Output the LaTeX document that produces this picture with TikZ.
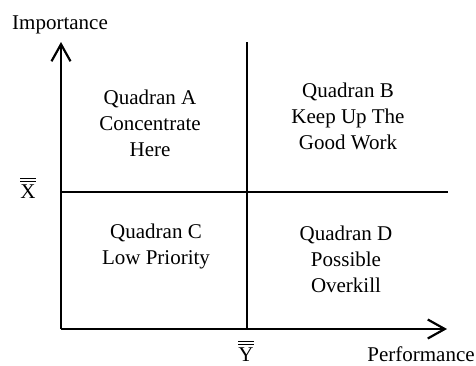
\documentclass[tikz,border=0pt]{standalone}
\usepackage{fontspec}
\setmainfont{Liberation Serif}
\usetikzlibrary{arrows.meta}

\newcommand{\dblbar}[1]{\setbox0\hbox{#1}\vbox{\hrule width\wd0 height1pt\kern2.2pt\hrule width\wd0 height1pt\kern2.2pt\box0}}

\begin{document}
\begin{tikzpicture}[
    x=1pt, y=-1pt,
    every node/.style={font=\fontsize{21}{26}\selectfont, inner sep=0pt},
    quad/.style={align=center},
    axis/.style={line width=2.2pt, -{Straight Barb[length=17pt,width=19pt,line width=2.2pt]}},
    divider/.style={line width=2.2pt}
]
    \useasboundingbox (0,0) rectangle (476,365);

    % axes and dividers
    \coordinate (origin) at (61,329);
    \coordinate (ytop) at (61,42);
    \coordinate (xend) at (447,329);
    \coordinate (vtop) at (247,42);
    \coordinate (vbot) at (247,329);
    \coordinate (hleft) at (61,192);
    \coordinate (hright) at (448,192);

    \draw [axis] (origin) -- (ytop);
    \draw [axis] (origin) -- (xend);
    \draw [divider] (vbot) -- (vtop);
    \draw [divider] (hleft) -- (hright);

    % axis labels
    \node (imp) [anchor=base] at (60,29) {Importance};
    \node (perf) [anchor=base] at (421,361) {Performance};
    \node (xbar) [anchor=base] at (28,198) {\dblbar{X}};
    \node (ybar) [anchor=base] at (246,361) {\dblbar{Y}};

    % quadrants
    \node (qa) [quad] at (150,123) {Quadran A\\Concentrate\\Here};
    \node (qb) [quad] at (348,116) {Quadran B\\Keep Up The\\Good Work};
    \node (qc) [quad] at (156,246) {Quadran C\\Low Priority};
    \node (qd) [quad] at (346,259) {Quadran D\\Possible\\Overkill};
\end{tikzpicture}
\end{document}
